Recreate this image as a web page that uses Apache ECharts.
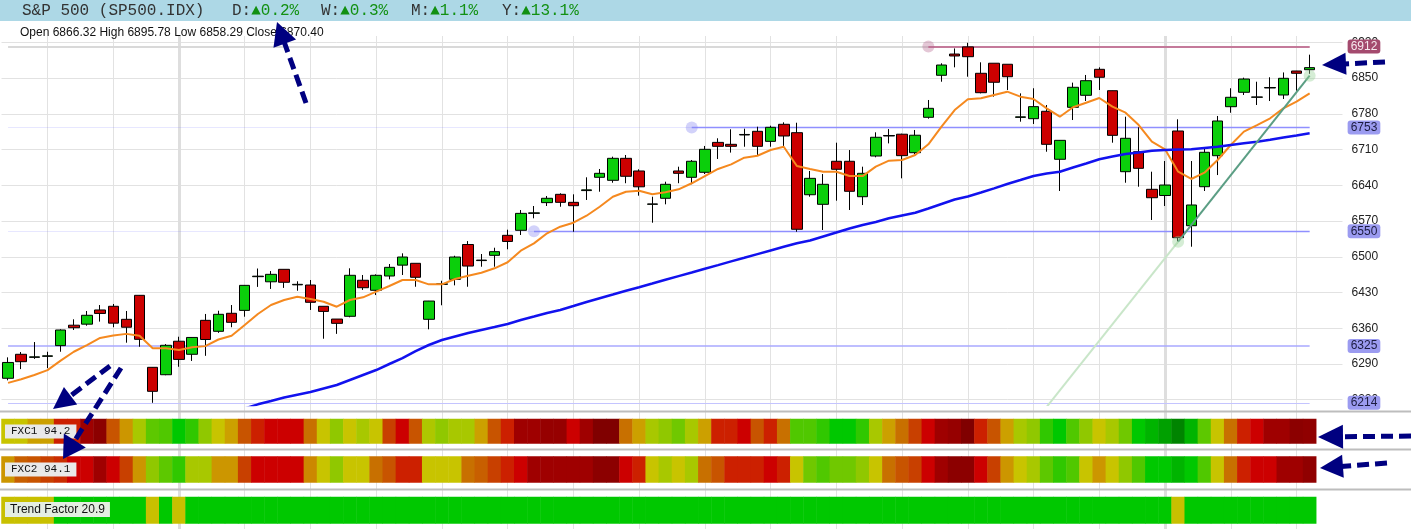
<!DOCTYPE html>
<html><head><meta charset="utf-8">
<script src="https://cdn.jsdelivr.net/npm/echarts@6/dist/echarts.min.js"></script>
<style>html,body{margin:0;padding:0;background:#fff}#c{width:1411px;height:529px}</style>
</head><body><div id="c"></div>
<script>
// ---------- DATA ----------
const opens  = [6262,6309,6303,6305,6326,6366,6368,6395.8,6403,6377.5,6424.5,6283.5,6269,6334.6,6309,6375.5,6354,6389.3,6395,6461,
6451,6475.4,6445,6444.7,6403,6378,6383.4,6454,6434.3,6462.3,6483.6,6487.2,6377.5,6446,6455.8,6524,6492.5,6502.8,6542,6551.8,
6585,6606,6622.3,6606.6,6629.6,6655.6,6649.7,6692.8,6668,6602.7,6614.5,6668,6655.6,6665.4,6724,6720.2,6738.5,6745.7,6726,6759.4,
6743,6621.5,6602.7,6687,6687,6617.6,6697.3,6736.5,6740,6703.8,6773.1,6855.4,6897,6911,6859.3,6879,6877,6773,6770.4,6784.9,
6690.9,6792.7,6816.2,6867.1,6825.2,6666.6,6705.7,6632.1,6620,6746.3,6560.8,6637.2,6697.9,6793.9,6822.1,6812.3,6830.5,6816.8,6863.8,6866.32];
const closes = [6293,6294.5,6304,6306,6356.6,6361,6385.4,6389,6370,6362,6338.3,6236.5,6326.6,6299,6342,6338,6387.3,6371.6,6444,6462,
6465.6,6450,6446,6410.8,6393,6369.6,6463.7,6439.4,6463.7,6479.3,6499.5,6459.8,6413.3,6447,6499.5,6481.8,6493.5,6510,6530,6585,
6586,6614.5,6606.6,6600,6631,6663.4,6692.8,6657.6,6637,6603.5,6641.9,6663.4,6687,6710.4,6716.3,6716.3,6739.5,6716.3,6753.5,6736.5,
6553.8,6653.6,6641.9,6671.3,6628.2,6663.4,6734,6737.5,6698,6738,6790.7,6875.5,6893.2,6891.8,6821.3,6841.7,6852.6,6774,6794,6720.2,
6728,6831.9,6844.8,6851.5,6737.8,6732,6673.2,6615.6,6640.5,6537.3,6601.4,6704.6,6765.9,6812.3,6848.1,6813,6831.5,6849.5,6859.3,6870.40];
const lows   = [6258,6280,6300,6282,6314,6356.6,6365,6373,6362,6331.7,6323.8,6214,6268,6284.6,6296,6306,6351,6362,6382.6,6441,
6437,6439,6433.5,6395.8,6339.5,6349,6381.4,6435,6425,6455.8,6464.3,6441.3,6357.9,6405,6444,6441.3,6480.5,6480.5,6514.6,6542.6,
6575.3,6599.4,6598,6549,6611.2,6627.4,6645,6644,6619.6,6566.7,6602.7,6644,6642,6662,6691.5,6704,6715.5,6699.3,6715.5,6717,
6549,6617.6,6552.4,6609.8,6591.6,6601.3,6694.8,6722,6653.6,6701.3,6770.4,6842.8,6871,6852.6,6820,6813.5,6826.6,6764.5,6760,6705.7,
6628.8,6767.8,6805,6826.6,6723.4,6645,6637.2,6572,6599.4,6526.3,6519.7,6628.8,6660,6782,6816.8,6797.2,6805,6809,6825.2,6858.29];
const highs  = [6303,6313.5,6333,6314,6358,6377.5,6393.8,6405.5,6407.5,6393.8,6425,6284,6329,6343.4,6342.5,6388,6394.3,6405.5,6444.5,6477,
6472,6475.5,6452,6454.5,6403,6378,6477.4,6464.3,6465.6,6485.8,6506.7,6487.2,6413.5,6453,6502,6530.7,6505.4,6517.7,6553,6591.6,
6599.4,6619,6624.3,6622.3,6655.6,6671.9,6696,6699.3,6671.3,6617.6,6647,6676.4,6689.5,6717,6732,6749.6,6750.8,6754.7,6756.7,6763.3,
6762.5,6668,6662,6723.4,6709,6676.4,6743.7,6750,6741,6748.3,6807,6878.9,6908,6919,6880.8,6879,6877,6820,6830,6797.2,
6728.5,6841,6856,6871,6825.5,6774.3,6753.5,6666.6,6687.5,6769.2,6687.5,6714.4,6775.7,6830,6850.7,6842.8,6851.5,6861,6864,6895.78];
const maFast = [6253,6260,6268.5,6278,6296.5,6314,6327,6341,6346,6349,6345.4,6320.7,6321,6317.4,6322.7,6325,6338,6345.4,6366.3,6388,
6405.5,6415.3,6421.8,6417.3,6412,6402.2,6415.3,6420.6,6431.6,6442.7,6454.5,6454.5,6446,6446,6456.4,6463,6468.8,6477.4,6489.2,6512,
6526.3,6546,6558.9,6566.7,6580.4,6598,6617.6,6627.4,6629.4,6622.3,6626.2,6632.1,6643.9,6658.1,6671.9,6681,6694,6697.9,6709,6715.5,
6677.7,6671.9,6666.6,6666.6,6658.2,6658,6676.4,6688.2,6689.5,6699.3,6720.2,6754.7,6787.4,6808.4,6810.3,6816.8,6823.3,6813.5,6809,6790.7,
6774.3,6792.7,6801.7,6810.9,6793.9,6782.1,6758,6725.3,6710.4,6666.6,6652.3,6664.6,6689.5,6718.9,6745,6758,6771.2,6790.7,6803.7,6820.1];
const maSlow = [null,null,null,null,null,null,null,null,null,null,null,null,null,null,null,null,null,null,6203,6211,
6217.5,6224.3,6229.8,6235,6242,6248.8,6258.6,6268.4,6278.2,6290,6301.7,6315.4,6327.2,6337,6344,6350.7,6356.6,6362.4,6368.3,6376.2,
6383,6390,6395.8,6403.5,6411.4,6418.8,6426,6433.3,6440.4,6447.6,6454.9,6462.1,6469.2,6476.4,6483.6,6490.9,6498,6505.2,6512.4,6519.6,
6526.3,6531.8,6539.6,6547.4,6555.3,6562.2,6568,6575.3,6580.8,6586.3,6594.5,6603.3,6612.1,6618,6625.8,6634,6642.5,6650.3,6658.2,6663,
6666.6,6674.8,6682.6,6690.9,6696.3,6701.2,6704.2,6707.7,6709.1,6709.9,6710.4,6713,6715.5,6718.9,6722.2,6725.3,6729,6733.4,6737.5,6741.8];
const fxc1 = [50,50,55,55,80,80,91,95,70,57, 45,32,30,20,25,40,50,55,70,80, 85,85,85,65,50,40,50,45,50,75,
85,70,46,40,45,45,55,70,80,91, 91,93,93,85,91,98,98,65,55,45, 40,35,45,55,80,80,85,70,80,65,
30,30,25,20,20,25,45,55,65,75, 85,91,93,98,80,70,55,45,40,25, 20,30,40,50,45,35,20,15,10,3,
15,32,50,65,80,85,91,91,95,94.2];
const fxc2 = [57,68,70,75,78,85,85,91,85,75, 57,40,32,25,45,45,57,57,75,85, 85,85,85,60,50,40,50,50,65,70,
80,80,50,50,50,65,68,75,80,85, 91,91,91,91,91,95,95,85,80,50, 45,50,45,65,70,80,80,80,85,80,
50,35,30,35,35,40,50,65,70,75, 85,91,95,95,85,75,57,50,45,32, 25,30,50,57,50,40,30,20,20,15,
20,30,50,65,80,85,85,91,91,94.1];
const trendFactor = [12,11,13,12,18,22,25,24,21,19, 16,13,16,12,17,21,24,26,28,27, 25,23,24,26,28,30,29,27,25,24,
26,27,25,23,22,24,26,28,30,31, 29,28,27,29,31,32,30,28,26,25, 24,23,25,27,29,30,28,26,24,22,
21,20,19,18,19,21,23,25,27,28, 30,31,30,28,26,24,22,20,19,18, 17,18,19,18,17,16,17,18,16,13,
16,17,18,19,20,21,22,21,21,20.9];
const yTicks = [6220,6290,6360,6430,6500,6570,6640,6710,6780,6850,6920];
const levelValues = [6912, 6753, 6550, 6325, 6214];
const levelStart  = [70, 52, 40, 0, 0];
const trendIdx  = [89, 99];
const trendVals = [6529.5, 6854.6];
const trendExtIdx  = [79, 89];
const trendExtVals = [6206, 6529.5];
const weekLines = [3,8,13,18,23,28,33,38,43,48,53,58,63,68,73,78,83,88,93,98];
const monthLines = [13, 88];
const header = {name:'S&P 500 (SP500.IDX)', chg:[['D:','▲0.2%'],['W:','▲0.3%'],['M:','▲1.1%'],['Y:','▲13.1%']]};

// ---------- BUILD ----------
const N = opens.length;
const cats = Array.from({length: 102}, (_, i) => 'T' + (i + 1));
const candles = opens.map((o, i) => [o, closes[i], lows[i], highs[i]]);
const palette = ['#007800','#008c00','#00a000','#00b400','#00c800','#30c800','#50c800','#70c800','#90c800','#a8c800',
  '#c8c400','#cca000','#cc8800','#c87000','#c85400','#c84000','#cc2000','#cc0000','#a40000','#8c0000','#780000'];

const GL = 1.5, GR = 68.5;
const lvlStyle = [
  {faint:{color:'#d9d9d9', width:2, type:'solid'}, strong:{color:'#c47a9a', width:2, type:'solid'}, bg:'#a44a6e', fg:'#f6e8ee'},
  {faint:{color:'rgba(120,120,255,0.18)', width:1, type:'solid'}, strong:{color:'#8f8fff', width:1.3, type:'solid'}, bg:'#9b9bf0', fg:'#1c1c40'},
  {faint:{color:'rgba(120,120,255,0.18)', width:1, type:'solid'}, strong:{color:'#8f8fff', width:1.3, type:'solid'}, bg:'#9b9bf0', fg:'#1c1c40'},
  {faint:null, strong:{color:'#a8a8ff', width:1.6, type:'solid'}, bg:'#9b9bf0', fg:'#1c1c40'},
  {faint:null, strong:{color:'#c4c4ff', width:1.2, type:'solid'}, bg:'#9b9bf0', fg:'#1c1c40'}
];
const levelLines = [];
levelValues.forEach((v, k) => {
  const st = lvlStyle[k];
  if (st.faint) levelLines.push([{coord:[cats[0], v], lineStyle:st.faint}, {coord:[cats[N-1], v], lineStyle:st.faint}]);
  const lab = {show:true, position:'end', distance:38, formatter:String(v), backgroundColor:st.bg, color:st.fg,
    padding:[1,3,1,3], borderRadius:3, fontSize:12, lineHeight:12, fontFamily:'Liberation Sans'};
  levelLines.push([{coord:[cats[levelStart[k]], v], lineStyle:st.strong, label:lab}, {coord:[cats[N-1], v], lineStyle:st.strong, label:lab}]);
});

const anchorDots = [
  {value:[cats[levelStart[0]], levelValues[0]], itemStyle:{color:'rgba(180,100,140,0.45)'}},
  {value:[cats[levelStart[1]], levelValues[1]], itemStyle:{color:'rgba(130,130,240,0.45)'}},
  {value:[cats[levelStart[2]], levelValues[2]], itemStyle:{color:'rgba(130,130,240,0.45)'}},
  {value:[cats[trendIdx[0]], trendVals[0]], itemStyle:{color:'rgba(150,210,150,0.5)'}},
  {value:[cats[trendIdx[1]], trendVals[1]], itemStyle:{color:'rgba(150,210,150,0.5)'}}
];

const vLines = weekLines.map(i => ({xAxis: cats[i], lineStyle: monthLines.includes(i) ? {color:'#dedede', width:3, type:'solid'} : {color:'#e2e2e2', width:1, type:'solid'}}));

function catAxis(g){ return {gridIndex:g, type:'category', data:cats, boundaryGap:true, show:true,
  axisLine:{show:false}, axisTick:{show:false}, axisLabel:{show:false}, splitLine:{show:false}}; }
function catY(g, name){ return {gridIndex:g, type:'category', data:[name], show:false}; }

function arrowEls(tail, tip, headLen, half){
  const dx = tip[0]-tail[0], dy = tip[1]-tail[1], len = Math.hypot(dx, dy);
  const ux = dx/len, uy = dy/len, bx = tip[0]-ux*headLen, by = tip[1]-uy*headLen, nx = -uy, ny = ux;
  return [
    {type:'line', z:100, shape:{x1:tail[0], y1:tail[1], x2:bx+ux*2, y2:by+uy*2}, style:{stroke:'#000080', lineWidth:5, lineDash:[12,6]}},
    {type:'polygon', z:100, shape:{points:[tip, [bx+nx*half, by+ny*half], [bx-nx*half, by-ny*half]]}, style:{fill:'#000080'}}
  ];
}

const hdrFont = '16px "Liberation Mono", "DejaVu Sans Mono", monospace';
const graphics = [
  {type:'rect', z:-10, shape:{x:0, y:0, width:1411, height:21}, style:{fill:'#add8e6'}},
  {type:'text', z:10, x:22, y:11, style:{text:header.name, font:hdrFont, fill:'#333', verticalAlign:'middle'}},
  {type:'text', z:10, x:20, y:33, style:{text:'Open ' + opens[N-1].toFixed(2) + ' High ' + highs[N-1].toFixed(2) + ' Low ' + lows[N-1].toFixed(2) + ' Close ' + closes[N-1].toFixed(2),
    font:'12px "Liberation Sans", Arial, sans-serif', fill:'#111', verticalAlign:'middle'}},
  {type:'line', z:10, shape:{x1:0, y1:411.5, x2:1411, y2:411.5}, style:{stroke:'#bdbdbd', lineWidth:2}},
  {type:'line', z:10, shape:{x1:0, y1:449.5, x2:1411, y2:449.5}, style:{stroke:'#bdbdbd', lineWidth:2}},
  {type:'line', z:10, shape:{x1:0, y1:489.5, x2:1411, y2:489.5}, style:{stroke:'#bdbdbd', lineWidth:2}},
  {type:'text', z:20, x:5, y:431.5, style:{text:'FXC1 ' + fxc1[N-1], font:'11px "Liberation Mono", monospace', fill:'#111',
    backgroundColor:'#e9e9e9', padding:[1,6,1,6], lineHeight:12, verticalAlign:'middle'}},
  {type:'text', z:20, x:5, y:469.5, style:{text:'FXC2 ' + fxc2[N-1], font:'11px "Liberation Mono", monospace', fill:'#111',
    backgroundColor:'#e9e9e9', padding:[1,6,1,6], lineHeight:12, verticalAlign:'middle'}},
  {type:'text', z:20, x:5, y:509.5, style:{text:'Trend Factor ' + trendFactor[N-1], font:'12px "Liberation Sans", Arial, sans-serif', fill:'#111',
    backgroundColor:'#e4eee2', padding:[1,5,1,5], lineHeight:13, verticalAlign:'middle'}}
];
const chgX = [232, 321, 411, 502];
header.chg.forEach((c, k) => {
  graphics.push({type:'text', z:10, x:chgX[k], y:11, style:{text:c[0], font:hdrFont, fill:'#333', verticalAlign:'middle'}});
  graphics.push({type:'text', z:10, x:chgX[k] + 19.2, y:11, style:{text:c[1], font:hdrFont, fill:'#129012', verticalAlign:'middle'}});
});
[[[306,103],[277,22],23,12],[[110,366],[53,409],22,11],[[121,368],[63,459],22,13],
 [[1385,62],[1322,65],24,11],[[1411,436],[1318,437],25,12],[[1387,463],[1320,468],23,11.5]]
 .forEach(a => graphics.push(...arrowEls(a[0], a[1], a[2], a[3])));

const option = {
  animation:false,
  backgroundColor:'#ffffff',
  grid:[
    {left:GL, right:GR, top:36, bottom:0, outerBoundsMode:'none'},
    {left:GL, right:GR, top:40, bottom:124, outerBoundsMode:'none'},
    {left:GL, right:GR, top:419, height:24.5, outerBoundsMode:'none'},
    {left:GL, right:GR, top:456.5, height:26, outerBoundsMode:'none'},
    {left:GL, right:GR, top:497, height:26.5, outerBoundsMode:'none'}
  ],
  xAxis:[catAxis(0), catAxis(1), catAxis(2), catAxis(3), catAxis(4)],
  yAxis:[
    {gridIndex:0, type:'value', min:0, max:1, show:false},
    {gridIndex:1, type:'value', position:'right', min:6209.7, max:6924.5,
      axisLine:{show:false}, axisTick:{show:false, customValues:yTicks},
      axisLabel:{customValues:yTicks, formatter:v => String(Math.round(v)), color:'#222', fontSize:12, fontFamily:'Liberation Sans', margin:9},
      splitLine:{show:true, lineStyle:{color:'#e2e2e2', width:1}}},
    catY(2,'FXC1'), catY(3,'FXC2'), catY(4,'Trend')
  ],
  visualMap:[
    {type:'continuous', seriesIndex:[8,9], dimension:2, min:0, max:100, inRange:{color:palette}, show:false},
    {type:'piecewise', seriesIndex:10, dimension:2, pieces:[{lt:15, color:'#c8c000'}, {gte:15, color:'#00c800'}], show:false}
  ],
  graphic:{elements:graphics},
  series:[
    {type:'line', xAxisIndex:0, yAxisIndex:0, data:[], z:1, silent:true,
      markLine:{silent:true, z:0, symbol:['none','none'], label:{show:false}, lineStyle:{type:'solid'}, data:vLines}},
    {type:'line', xAxisIndex:1, yAxisIndex:1, data:[], z:2, silent:true,
      markLine:{silent:true, z:2, symbol:['none','none'], label:{show:false}, lineStyle:{type:'solid'}, data:levelLines}},
    {type:'candlestick', xAxisIndex:1, yAxisIndex:1, data:candles, barWidth:11, z:3,
      itemStyle:{color:'#0bcf0b', color0:'#cc0000', borderColor:'#000', borderColor0:'#000', borderWidth:1}},
    {type:'line', xAxisIndex:1, yAxisIndex:1, data:maFast, symbol:'none', z:4, lineStyle:{color:'#f5891f', width:2}},
    {type:'line', xAxisIndex:1, yAxisIndex:1, data:maSlow, symbol:'none', z:4, lineStyle:{color:'#1212ee', width:2.5}},
    {type:'line', xAxisIndex:1, yAxisIndex:1, data:trendExtIdx.map((i,k)=>[cats[i], trendExtVals[k]]), symbol:'none', z:4, lineStyle:{color:'#c9e6c9', width:2}},
    {type:'line', xAxisIndex:1, yAxisIndex:1, data:trendIdx.map((i,k)=>[cats[i], trendVals[k]]), symbol:'none', z:4, lineStyle:{color:'#5b9e84', width:2}},
    {type:'scatter', xAxisIndex:1, yAxisIndex:1, data:anchorDots, symbolSize:12, z:5, silent:true},
    {type:'heatmap', xAxisIndex:2, yAxisIndex:2, data:fxc1.map((v,i)=>[i,0,v]), z:3, itemStyle:{borderWidth:0}},
    {type:'heatmap', xAxisIndex:3, yAxisIndex:3, data:fxc2.map((v,i)=>[i,0,v]), z:3, itemStyle:{borderWidth:0}},
    {type:'heatmap', xAxisIndex:4, yAxisIndex:4, data:trendFactor.map((v,i)=>[i,0,v]), z:3, itemStyle:{borderWidth:0}}
  ]
};
const chart = echarts.init(document.getElementById('c'), null, {renderer:'canvas'});
chart.setOption(option);
</script>
</body></html>
